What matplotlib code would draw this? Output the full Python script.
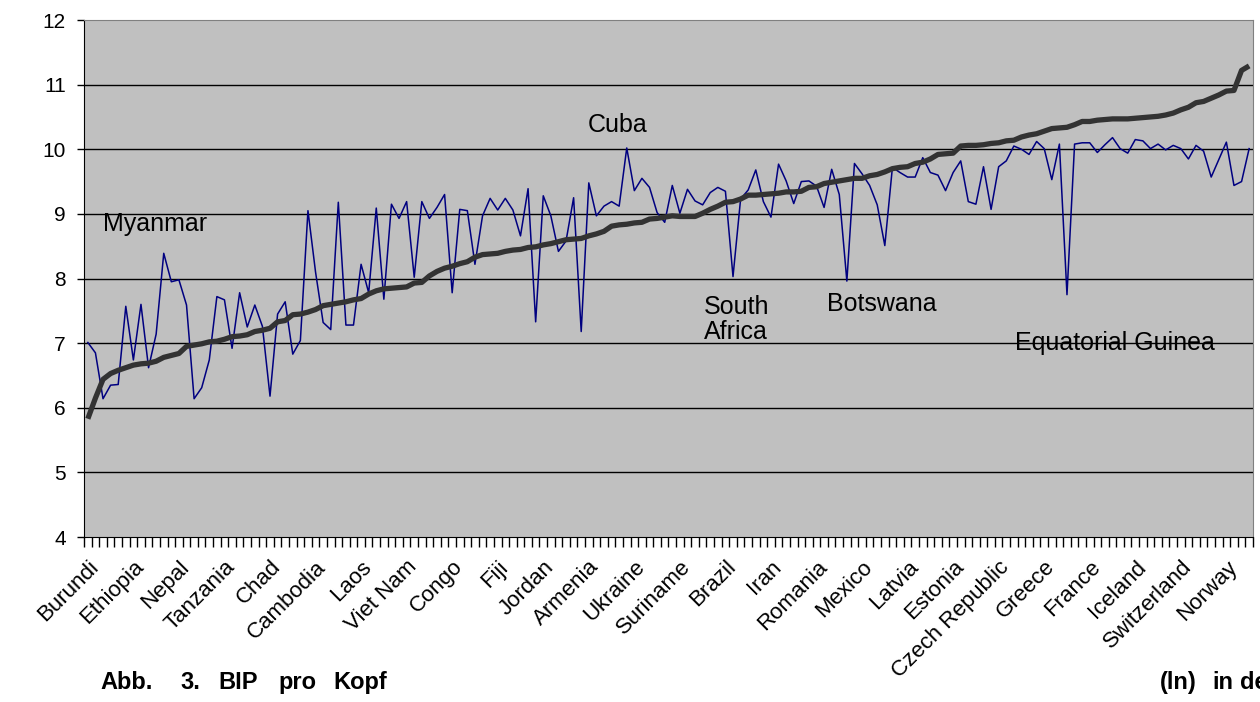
import numpy as np
import matplotlib
matplotlib.use("Agg")
import matplotlib.pyplot as plt

plt.rcParams['font.family'] = ['Liberation Sans', 'DejaVu Sans']

# ln GDP per capita by country (thin line) and the sorted reference curve (thick line)
bip_ln = [
    7.01, 6.85, 6.14, 6.35, 6.36, 7.57, 6.74, 7.60, 6.62, 7.14,
    8.39, 7.95, 7.98, 7.59, 6.14, 6.31, 6.74, 7.72, 7.67, 6.92,
    7.78, 7.25, 7.59, 7.26, 6.18, 7.45, 7.64, 6.83, 7.04, 9.05,
    8.10, 7.32, 7.21, 9.18, 7.28, 7.28, 8.22, 7.78, 9.09, 7.68,
    9.15, 8.93, 9.19, 8.02, 9.19, 8.93, 9.10, 9.30, 7.78, 9.07,
    9.05, 8.22, 8.97, 9.24, 9.06, 9.24, 9.06, 8.66, 9.39, 7.33,
    9.28, 8.97, 8.42, 8.58, 9.25, 7.18, 9.48, 8.97, 9.12, 9.19,
    9.12, 10.02, 9.36, 9.55, 9.41, 9.02, 8.87, 9.44, 9.01, 9.38,
    9.20, 9.14, 9.33, 9.41, 9.35, 8.03, 9.23, 9.37, 9.68, 9.19,
    8.95, 9.77, 9.51, 9.16, 9.50, 9.51, 9.43, 9.10, 9.69, 9.30,
    7.96, 9.78, 9.62, 9.44, 9.14, 8.51, 9.72, 9.64, 9.57, 9.57,
    9.87, 9.64, 9.60, 9.36, 9.64, 9.82, 9.19, 9.15, 9.73, 9.07,
    9.73, 9.82, 10.05, 10.00, 9.92, 10.12, 10.01, 9.53, 10.08, 7.75,
    10.08, 10.10, 10.10, 9.95, 10.07, 10.18, 10.01, 9.94, 10.15, 10.13,
    10.01, 10.08, 9.99, 10.06, 10.01, 9.85, 10.06, 9.97, 9.57, 9.84,
    10.11, 9.44, 9.50, 10.01,
]
bip_sorted = [
    5.83, 6.15, 6.44, 6.53, 6.58, 6.62, 6.66, 6.68, 6.69, 6.72,
    6.78, 6.81, 6.84, 6.95, 6.97, 6.99, 7.02, 7.03, 7.06, 7.10,
    7.11, 7.13, 7.18, 7.20, 7.23, 7.33, 7.35, 7.44, 7.45, 7.48,
    7.52, 7.58, 7.60, 7.62, 7.64, 7.67, 7.69, 7.76, 7.81, 7.84,
    7.85, 7.86, 7.87, 7.93, 7.94, 8.04, 8.11, 8.16, 8.19, 8.23,
    8.26, 8.33, 8.37, 8.38, 8.39, 8.42, 8.44, 8.45, 8.48, 8.49,
    8.52, 8.54, 8.57, 8.60, 8.61, 8.62, 8.66, 8.69, 8.73, 8.81,
    8.83, 8.84, 8.86, 8.87, 8.92, 8.93, 8.95, 8.97, 8.96, 8.96,
    8.96, 9.01, 9.07, 9.12, 9.18, 9.19, 9.23, 9.29, 9.29, 9.30,
    9.31, 9.32, 9.34, 9.34, 9.35, 9.41, 9.42, 9.47, 9.49, 9.51,
    9.53, 9.55, 9.55, 9.59, 9.61, 9.65, 9.70, 9.72, 9.73, 9.78,
    9.80, 9.85, 9.92, 9.93, 9.94, 10.05, 10.06, 10.06, 10.07, 10.09,
    10.10, 10.13, 10.14, 10.19, 10.22, 10.24, 10.28, 10.32, 10.33, 10.34,
    10.38, 10.43, 10.43, 10.45, 10.46, 10.47, 10.47, 10.47, 10.48, 10.49,
    10.50, 10.51, 10.53, 10.56, 10.61, 10.65, 10.72, 10.74, 10.79, 10.84,
    10.90, 10.91, 11.22, 11.29,
]
# every sixth country gets a tick label
tick_names = [
    "Burundi", "Ethiopia", "Nepal", "Tanzania", "Chad", "Cambodia", "Laos",
    "Viet Nam", "Congo", "Fiji", "Jordan", "Armenia", "Ukraine", "Suriname",
    "Brazil", "Iran", "Romania", "Mexico", "Latvia", "Estonia",
    "Czech Republic", "Greece", "France", "Iceland", "Switzerland", "Norway",
]
notes = ["Myanmar", "Cuba", "South\nAfrica", "Botswana", "Equatorial Guinea"]
note_x = [2.0, 65.8, 81.2, 97.4, 122.2]
note_y = [8.85, 10.37, 7.36, 7.61, 7.00]

n = len(bip_ln)
x = np.arange(n)

fig = plt.figure(figsize=(12.6, 7.02), dpi=100)
ax = fig.add_axes([0.0667, 0.235, 0.9277, 0.7365])
ax.set_facecolor("#C0C0C0")

for v in range(5, 12):
    ax.axhline(v, color="#000000", lw=1.0, zorder=1)

ax.plot(x, bip_ln, color="#000080", lw=1.1, zorder=2)
ax.plot(x, bip_sorted, color="#333333", lw=3.8, zorder=3, solid_capstyle="butt")

for t, tx, ty in zip(notes, note_x, note_y):
    ax.text(tx, ty, t, fontsize=18, ha="left", va="center", linespacing=1.05, zorder=4)

ax.set_xlim(-0.5, n - 0.5)
ax.set_ylim(4, 12)
ax.set_yticks(range(4, 13))
ax.tick_params(axis="y", labelsize=15, length=5, width=1, direction="out", pad=8)

# tick marks between categories, labels centred on every sixth category
ax.set_xticks(np.arange(n + 1) - 0.5)
ax.set_xticklabels([])
ax.tick_params(axis="x", which="major", length=7, width=1, direction="out")
ax.set_xticks(np.arange(0, n, 6), minor=True)
ax.set_xticklabels(tick_names, minor=True, rotation=45, ha="right",
                   va="top", rotation_mode="anchor", fontsize=16)
ax.tick_params(axis="x", which="minor", length=0, pad=14)

for side in ["top", "right"]:
    ax.spines[side].set_color("#808080")
ax.spines["left"].set_color("#000000")
ax.spines["bottom"].set_color("#000000")

# justified caption line below the chart
cap_words = ["Abb.", "3.", "BIP", "pro", "Kopf", "(ln)", "in", "der"]
cap_px = [100, 180, 218, 278, 333, 1160, 1212, 1240]
for w, px in zip(cap_words, cap_px):
    fig.text(px / 1260, 1 - 689 / 702, w, fontsize=17, fontweight="bold",
             ha="left", va="baseline")

fig.savefig("out.png", dpi=100)
